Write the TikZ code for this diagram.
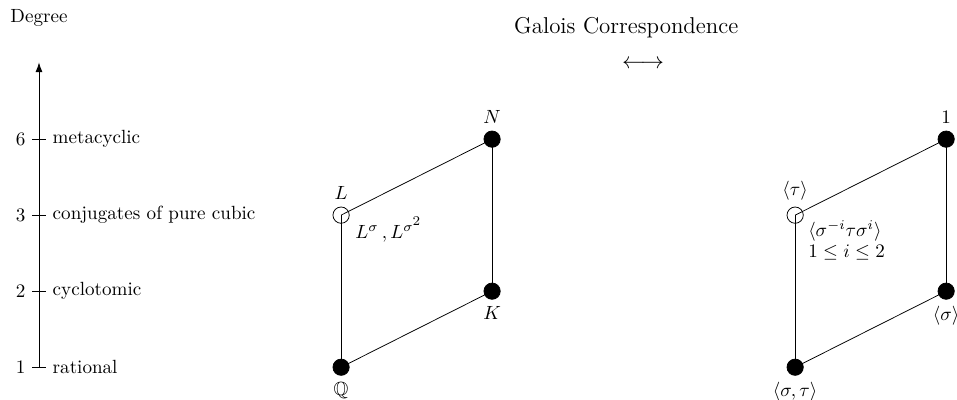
\documentclass[tikz,border=0pt]{standalone}
\usepackage{amsmath,amssymb}
\usetikzlibrary{arrows.meta}

\begin{document}
\begin{tikzpicture}[>={Latex[length=5pt,width=3.6pt]},
    filled/.style={draw,circle,fill,minimum size=0.3cm,inner sep=0pt},
    hollow/.style={draw,circle,minimum size=0.3cm,inner sep=0pt}]
    \useasboundingbox (0,0) rectangle (17.62,7.35);

    % degree axis
    \coordinate (d0) at (0.718,0.589);
    \coordinate (dtop) at (0.718,6.2);
    \draw[->] (d0) -- (dtop);
    \node[anchor=base] (deg) at (0.718,6.94) {Degree};
    \foreach \y/\n/\t in {0.589/1/rational, 1.989/2/cyclotomic,
        3.389/3/conjugates of pure cubic, 4.788/6/metacyclic}{
        \draw (0.59,\y) -- (0.847,\y);
        \node[left] (n\n) at (0.59,\y) {\n};
        \node[right] (t\n) at (0.847,\y) {\t};
    }

    % title
    \node[anchor=base,font=\large] (title) at (11.53,6.74) {Galois Correspondence};
    \node[font=\large] (corr) at (11.84,6.17) {$\longleftrightarrow$};

    % field lattice
    \node[filled,label=below:{$\mathbb{Q}$}] (q) at (6.28,0.589) {};
    \node[hollow,label=above:{$L$}] (l) at (6.28,3.389) {};
    \node[filled,label=above:{$N$}] (nn) at (9.06,4.788) {};
    \node[filled,label=below:{$K$}] (k) at (9.06,1.989) {};
    \node[anchor=west] (lconj) at (6.42,3.13) {$L^{\sigma}\,, L^{\sigma^{\scriptstyle 2}}$};

    \draw (q.center) -- (l.center);
    \draw (l.center) -- (nn.center);
    \draw (nn.center) -- (k.center);
    \draw (k.center) -- (q.center);

    % subgroup lattice
    \node[filled,label=below:{$\langle\sigma,\tau\rangle$}] (g) at (14.64,0.589) {};
    \node[hollow,label=above:{$\langle\tau\rangle$}] (h) at (14.64,3.389) {};
    \node[filled,label=above:{$1$}] (e) at (17.42,4.788) {};
    \node[filled,label=below:{$\langle\sigma\rangle$}] (c) at (17.42,1.989) {};
    \node[anchor=north west,align=left,inner sep=1pt] (hconj) at (14.84,3.33)
        {$\langle\sigma^{-i}\tau\sigma^{i}\rangle$\\[-1pt]$1\le i\le 2$};

    \draw (g.center) -- (h.center);
    \draw (h.center) -- (e.center);
    \draw (e.center) -- (c.center);
    \draw (c.center) -- (g.center);
\end{tikzpicture}
\end{document}
